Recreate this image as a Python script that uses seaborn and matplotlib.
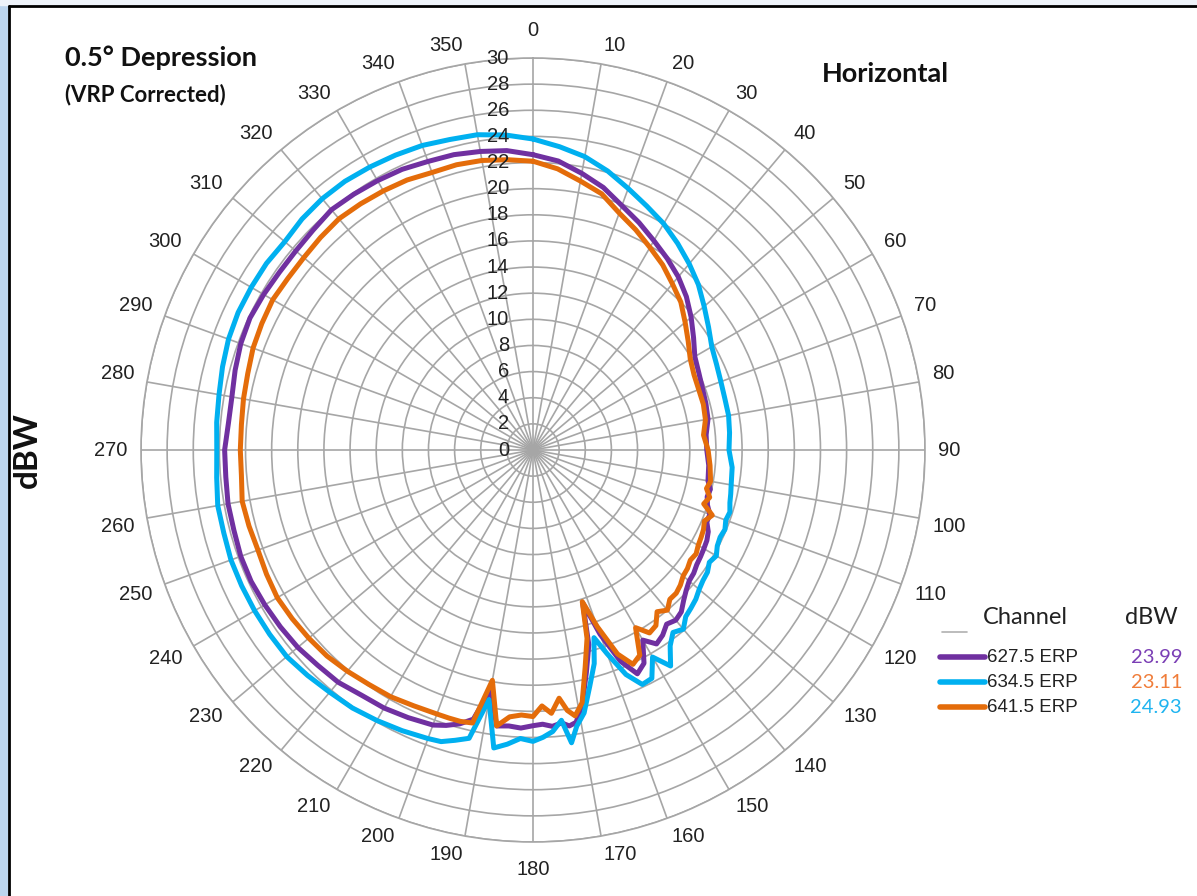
import numpy as np
import pandas as pd
import seaborn as sns
import matplotlib.pyplot as plt
from matplotlib.transforms import offset_copy
from matplotlib.patches import Rectangle
from matplotlib.lines import Line2D

# azimuth (deg, clockwise from north) and ERP in dBW
angle_deg = [0, 5, 10, 15, 20, 25, 30, 35, 40, 45, 50, 55, 60, 65, 70, 75, 80, 85, 90, 95,
             100, 102.5, 105, 107.5, 110, 112.5, 115, 117.5, 120, 122.5, 125, 127.5, 130,
             132.5, 135, 137.5, 140, 142.5, 145, 147.5, 150, 152.5, 155, 157.5, 160, 162,
             164, 166.5, 169, 171, 172.5, 174, 176, 178, 180, 182.5, 185, 187.5, 190,
             192.5, 195, 197.5, 200, 205, 210, 215, 220, 225, 230, 235, 240, 245, 250,
             255, 260, 265, 270, 275, 280, 285, 290, 295, 300, 305, 310, 315, 320, 325,
             330, 335, 340, 345, 350, 355]

erp_627 = [22.6, 22.2, 21.5, 20.8, 19.9, 19.2, 18.5, 17.9, 17.3, 16.6, 15.8, 15.0, 14.3, 14.0,
           13.8, 13.7, 13.6, 13.3, 13.3, 13.5,
           13.6, 13.9, 13.8, 14.0, 14.4, 14.4, 14.8, 15.0, 15.1, 15.2, 15.3, 15.5, 15.6,
           15.9, 16.3, 16.8, 17.0, 16.8, 17.3, 17.6, 16.8, 18.4, 18.9, 17.5, 15.0, 12.3,
           15.5, 17.5, 19.8, 21.1, 21.3, 21.0, 21.2, 21.0, 21.1, 21.3, 21.2, 21.3, 18.6,
           21.1, 21.7, 22.1, 22.4, 22.6, 22.8, 22.9, 23.2, 23.3, 23.5, 23.6, 23.7, 23.8, 23.8,
           23.7, 23.7, 23.6, 23.6, 23.4, 23.4, 23.6, 23.8, 23.9, 23.8, 23.7, 23.7, 23.8, 24.0, 23.9,
           23.8, 23.7, 23.5, 23.4, 23.2, 23.0]

erp_634 = [23.8, 23.3, 22.8, 22.1, 21.3, 20.6, 20.0, 19.3, 18.6, 17.9, 17.1, 16.4, 15.8, 15.5,
           15.3, 15.2, 15.2, 15.1, 15.0, 15.3,
           15.4, 15.5, 15.6, 15.8, 15.7, 15.9, 15.8, 15.9, 16.2, 16.0, 16.3, 16.4, 16.6,
           16.9, 17.1, 17.3, 17.9, 17.6, 18.3, 19.6, 18.3, 19.7, 19.8, 18.6, 16.6, 15.1,
           17.0, 18.6, 20.5, 21.4, 22.6, 20.8, 21.6, 22.0, 22.3, 22.1, 22.6, 23.0, 19.4,
           22.6, 23.0, 23.4, 23.5, 23.7, 23.9, 24.1, 24.2, 24.4, 24.6, 24.6, 24.6, 24.6, 24.6,
           24.5, 24.5, 24.3, 24.2, 24.3, 24.4, 24.6, 24.8, 24.9, 24.9, 24.9, 24.8, 25.0, 25.1, 25.1,
           25.0, 24.9, 24.8, 24.6, 24.5, 24.2]

erp_641 = [22.1, 21.6, 20.9, 20.3, 19.3, 18.6, 17.9, 17.3, 16.6, 16.0, 15.2, 14.5, 13.9, 13.6,
           13.5, 13.5, 13.4, 13.1, 13.4, 13.6,
           13.8, 13.6, 14.0, 13.7, 14.6, 14.2, 14.4, 14.5, 14.6, 14.8, 14.7, 14.9, 15.0,
           15.3, 15.5, 15.5, 16.0, 15.6, 16.4, 16.6, 15.7, 17.7, 18.1, 16.9, 14.4, 12.2,
           15.0, 17.1, 19.7, 20.6, 20.1, 19.1, 20.2, 19.6, 20.4, 20.3, 20.5, 21.3, 17.9,
           21.4, 21.5, 21.5, 21.5, 21.6, 21.8, 21.9, 22.1, 22.3, 22.4, 22.5, 22.6, 22.5, 22.4,
           22.5, 22.6, 22.4, 22.4, 22.4, 22.5, 22.6, 22.8, 22.9, 23.0, 22.9, 22.9, 23.0, 23.1, 23.0,
           22.9, 22.8, 22.6, 22.6, 22.5, 22.3]

channels = ["627.5 ERP", "634.5 ERP", "641.5 ERP"]
channel_dbw = ["23.99", "23.11", "24.93"]
colors = ["#7030A0", "#00B0F0", "#E46C0A"]
dbw_colors = ["#7B3FB5", "#F07D3A", "#1FB4F0"]
theta_ticks = list(range(0, 360, 10))
r_ticks = list(range(0, 31, 2))

sns.set_theme(style="white")
plt.rcParams['font.family'] = ['Liberation Sans', 'DejaVu Sans']

W, H = 1197, 896
fig = plt.figure(figsize=(W / 100, H / 100), dpi=100)
fig.patch.set_facecolor("white")

# screenshot frame
fig.patches.append(Rectangle((0, 0), 8 / W, 1, transform=fig.transFigure, color="#BCD5EE", zorder=0))
fig.patches.append(Rectangle((0, 1 - 5 / H), 1, 5 / H, transform=fig.transFigure, color="#EEF3FA", zorder=0))
fig.lines.append(Line2D([9 / W, 9 / W], [0, 1 - 6 / H], transform=fig.transFigure, color="black", lw=2))
fig.lines.append(Line2D([9 / W, 1], [1 - 6 / H, 1 - 6 / H], transform=fig.transFigure, color="black", lw=2))

ax = fig.add_axes([141 / W, 54 / H, 784 / W, 784 / H], projection="polar")

theta = np.deg2rad(angle_deg + [360])
for vals, col in zip([erp_627, erp_634, erp_641], colors):
    df = pd.DataFrame({"theta": theta, "r": vals + [vals[0]]})
    sns.lineplot(data=df, x="theta", y="r", ax=ax, color=col, lw=3.6, sort=False,
                 estimator=None, solid_joinstyle="round")

ax.set_theta_zero_location("N")
ax.set_theta_direction(-1)
ax.set_ylim(0, 30)
ax.set_yticks(r_ticks)
ax.set_yticklabels([])
ax.set_xticks(np.deg2rad(theta_ticks))
ax.set_xticklabels([])
ax.grid(True, color="#A6A6A6", lw=1.2)
ax.spines["polar"].set_color("#A6A6A6")
ax.spines["polar"].set_linewidth(1.2)
ax.set_xlabel("")
ax.set_ylabel("")

# angle labels: box placed just outside the ring (Excel-like)
for a in theta_ticks:
    s, c = np.sin(np.deg2rad(a)), np.cos(np.deg2rad(a))
    sx = np.sign(round(s, 6))
    sy = np.sign(round(c, 6))
    dx = sx * len(str(a)) * 5.6
    dy = sy * (6 if sx != 0 else 14)
    tr = offset_copy(ax.transData, fig=fig, x=dx, y=dy, units="dots")
    ax.text(np.deg2rad(a), 31.0, str(a), transform=tr, ha="center", va="center",
            fontsize=14.5, color="#222222")

trans = offset_copy(ax.transData, fig=fig, x=-24, y=0, units="dots")
for r in r_ticks:
    ax.text(0, r, str(r), transform=trans, ha="right", va="center", fontsize=14.5, color="#222222")

fig.text(65 / W, 1 - 58 / H, "0.5° Depression", fontsize=19.5, weight="bold", family="Lato",
         ha="left", va="center", color="#111111")
fig.text(65 / W, 1 - 95 / H, "(VRP Corrected)", fontsize=16, weight="bold", family="Lato",
         ha="left", va="center", color="#111111")
fig.text(822 / W, 1 - 74 / H, "Horizontal", fontsize=19.5, weight="bold", family="Lato",
         ha="left", va="center", color="#111111")
fig.text(27 / W, 1 - 450 / H, "dBW", fontsize=24, weight="bold", family="Lato", rotation=90,
         ha="center", va="center", color="#111111")

# legend block
fig.text(983 / W, 1 - 617 / H, "Channel", fontsize=17, family="Lato", ha="left", va="center", color="#222222")
fig.text(1178 / W, 1 - 617 / H, "dBW", fontsize=17, family="Lato", ha="right", va="center", color="#222222")
fig.lines.append(Line2D([942 / W, 967 / W], [1 - 632 / H] * 2, transform=fig.transFigure, color="#B0B0B0", lw=1.2))
for i, (name, val, col, vcol) in enumerate(zip(channels, channel_dbw, colors, dbw_colors)):
    y = 1 - (657 + 25 * i) / H
    fig.lines.append(Line2D([940 / W, 985 / W], [y, y], transform=fig.transFigure, color=col, lw=4,
                            solid_capstyle="round"))
    fig.text(987 / W, y, name, fontsize=13.5, ha="left", va="center", color="#222222")
    fig.text(1182 / W, y, val, fontsize=14.5, family="Lato", ha="right", va="center", color=vcol)

fig.savefig("out.png", dpi=100)
